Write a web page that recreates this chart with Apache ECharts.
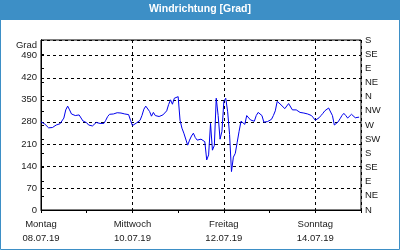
<!DOCTYPE html>
<html>
<head>
<meta charset="utf-8">
<script src="https://cdn.jsdelivr.net/npm/echarts@6/dist/echarts.min.js"></script>
<style>html,body{margin:0;padding:0;background:#fff;}#c{width:400px;height:250px;}</style>
</head>
<body>
<div id="c"></div>
<script>
// hourly wind direction values (degrees), starting Montag 08.07.19 00:00
const windDir = [
280,278,273,267,261,258,262,267,270,272,274,278,292,318,330,318,305,301,300,300,302,298,283,279,
277,270,265,267,272,278,272,275,278,275,285,297,304,307,305,307,309,309,308,307,305,304,303,285,
268,272,276,278,285,300,320,330,335,313,298,310,300,305,297,297,302,308,315,335,350,336,355,360,
360,285,260,244,238,206,222,235,244,230,222,225,225,225,217,159,175,275,190,205,355,300,225,250,
345,355,312,240,122,168,180,215,250,282,282,272,300,297,286,282,282,300,310,315,300,279,276,281,
280,288,300,315,345,339,334,328,322,328,338,341,318,320,318,314,310,309,308,306,305,304,300,293,
285,288,293,300,307,315,318,324,320,300,270,270,280,290,300,307,300,292,295,304,300,293,292,295
];
const dayLabels = ['Montag', 'Mittwoch', 'Freitag', 'Sonntag'];
const dateLabels = ['08.07.19', '10.07.19', '12.07.19', '14.07.19'];
const leftTicks = [0, 70, 140, 210, 280, 350, 420, 490];
const compassLabels = ['N','NE','E','SE','S','SW','W','NW','N','NE','E','SE','S'];
const title = 'Windrichtung [Grad]';
const yName = 'Grad';

const FONT = 'Liberation Sans';
const chart = echarts.init(document.getElementById('c'), null, {renderer: 'canvas'});
chart.setOption({
  animation: false,
  backgroundColor: '#ffffff',
  textStyle: {fontFamily: FONT},
  graphic: [
    {type: 'rect', shape: {x: 0, y: 0, width: 400, height: 20}, style: {fill: '#3d8fc6'}, silent: true},
    {type: 'rect', shape: {x: 0.5, y: 0.5, width: 399, height: 249}, style: {fill: 'none', stroke: '#3d8fc6', lineWidth: 1}, silent: true},
    {type: 'text', left: 'center', top: 4, style: {text: title, fill: '#ffffff', font: 'bold 10.5px "Liberation Sans"'}, silent: true}
  ],
  grid: {left: 41, right: 39, top: 40, bottom: 40, show: true, borderColor: '#000', borderWidth: 1, backgroundColor: 'transparent'},
  xAxis: [
    {
      type: 'value', min: 0, max: 168, interval: 48,
      axisLine: {show: true, lineStyle: {color: '#000'}},
      axisTick: {show: false},
      splitLine: {show: true, lineStyle: {color: '#000', type: [3, 3], width: 1}},
      axisLabel: {
        margin: 7, color: '#1a1a1a', fontSize: 9.5, lineHeight: 14, fontFamily: FONT,
        showMaxLabel: false,
        formatter: function (v) {
          const i = Math.round(v / 48);
          if (v % 48 !== 0 || i >= dayLabels.length) return '';
          return dayLabels[i] + '\n' + dateLabels[i];
        }
      }
    },
    {
      type: 'value', min: 0, max: 168, interval: 24, position: 'bottom',
      axisLine: {show: false},
      axisTick: {show: true, inside: false, length: 3, lineStyle: {color: '#000'}},
      axisLabel: {show: false},
      splitLine: {show: false}
    }
  ],
  yAxis: [
    {
      type: 'value', min: 0, max: 540, interval: 70,
      name: yName, nameLocation: 'end', nameGap: -5,
      nameTextStyle: {align: 'right', verticalAlign: 'middle', padding: [0, 4, 0, 0], color: '#1a1a1a', fontSize: 9.5, fontFamily: FONT},
      axisLine: {show: true, lineStyle: {color: '#000'}},
      axisTick: {show: false},
      splitLine: {show: true, lineStyle: {color: '#000', type: [3, 3], width: 1}},
      axisLabel: {
        margin: 4, color: '#1a1a1a', fontSize: 9.5, fontFamily: FONT,
        showMaxLabel: false,
        formatter: function (v) { return leftTicks.indexOf(v) >= 0 ? String(v) : ''; }
      }
    },
    {
      type: 'value', min: 0, max: 540, interval: 45, position: 'right',
      axisLine: {show: true, lineStyle: {color: '#000'}},
      axisTick: {show: true, length: 3, lineStyle: {color: '#000'}},
      splitLine: {show: false},
      axisLabel: {
        margin: 4, color: '#1a1a1a', fontSize: 9.5, fontFamily: FONT,
        formatter: function (v) { return compassLabels[Math.round(v / 45)] || ''; }
      }
    }
  ],
  series: [{
    type: 'line',
    xAxisIndex: 0, yAxisIndex: 0,
    data: windDir.map(function (v, i) { return [i, v]; }),
    showSymbol: false,
    lineStyle: {color: '#0000ee', width: 1},
    silent: true
  }]
});
</script>
</body>
</html>
